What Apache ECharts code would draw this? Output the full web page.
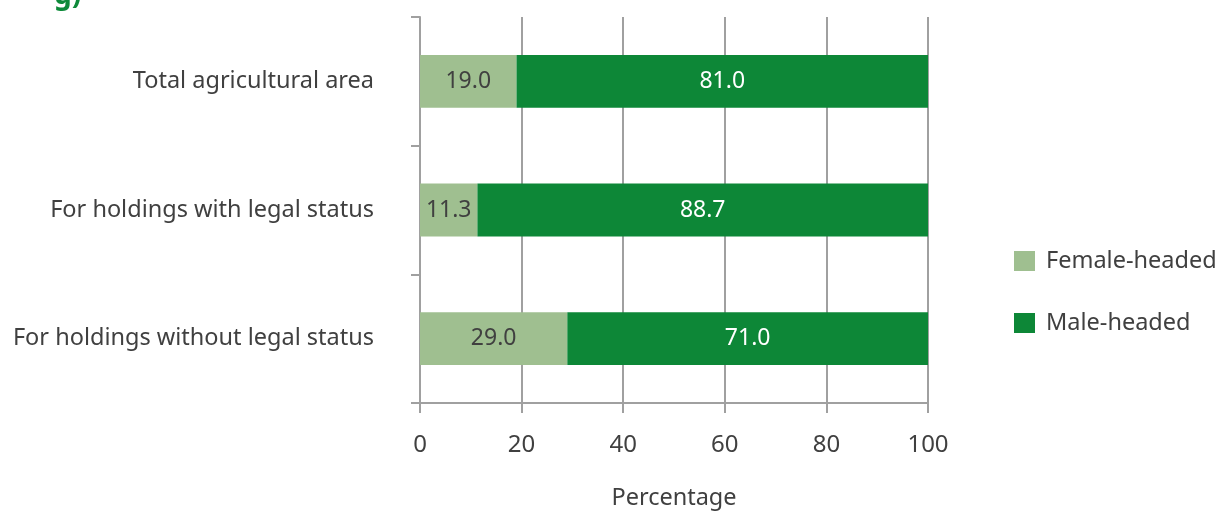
<!DOCTYPE html>
<html><head><meta charset="utf-8">
<script src="https://cdn.jsdelivr.net/npm/echarts@6/dist/echarts.min.js"></script>
<style>html,body{margin:0;padding:0;background:#fff;overflow:hidden}#c{width:1218px;height:515px}</style>
</head><body><div id="c"></div>
<script>
const categories = ["Total agricultural area", "For holdings with legal status", "For holdings without legal status"];
const femaleHeaded = [19.0, 11.3, 29.0];
const maleHeaded = [81.0, 88.7, 71.0];
const xTicks = [0, 20, 40, 60, 80, 100];

const font = "'Noto Sans', 'Open Sans', sans-serif";
const chart = echarts.init(document.getElementById('c'));
chart.setOption({
  animation: false,
  textStyle: { fontFamily: font },
  graphic: [{ type: 'text', left: 54, top: -18, style: { text: 'g)', font: "bold 28px " + font, fill: '#0e8a3a' } }],
  grid: { left: 420, right: 290, top: 17, bottom: 105 },
  legend: {
    orient: 'vertical', left: 1009, top: 243, itemWidth: 21, itemHeight: 20, itemGap: 36,
    icon: 'rect',
    textStyle: { fontSize: 23.5, lineHeight: 24, color: '#404040', fontFamily: font, padding: [2, 0, 0, 6] },
    data: ['Female-headed', 'Male-headed']
  },
  xAxis: {
    type: 'value', min: xTicks[0], max: xTicks[xTicks.length - 1], interval: 20,
    name: 'Percentage', nameLocation: 'middle', nameGap: 83,
    nameTextStyle: { fontSize: 23.5, color: '#404040', fontFamily: font },
    axisLine: { show: true, lineStyle: { color: '#a0a0a0', width: 2 } },
    axisTick: { show: true, length: 10, lineStyle: { color: '#a0a0a0', width: 2 } },
    axisLabel: { fontSize: 24, color: '#404040', margin: 30, fontFamily: font },
    splitLine: { show: true, lineStyle: { color: '#a0a0a0', width: 2 } }
  },
  yAxis: {
    type: 'category', inverse: true, data: categories,
    axisLine: { show: true, lineStyle: { color: '#a0a0a0', width: 2 } },
    axisTick: { show: true, length: 9, lineStyle: { color: '#a0a0a0', width: 2 } },
    axisLabel: { fontSize: 23.5, color: '#404040', margin: 46, fontFamily: font, padding: [5, 0, 0, 0] }
  },
  series: [
    { name: 'Female-headed', type: 'bar', stack: 't', data: femaleHeaded, barWidth: '41%',
      itemStyle: { color: '#9fbf90' },
      label: { show: true, position: 'inside', fontSize: 23, color: '#404040', fontFamily: font, padding: [5, 0, 0, 0], formatter: p => p.value.toFixed(1) } },
    { name: 'Male-headed', type: 'bar', stack: 't', data: maleHeaded, barWidth: '41%',
      itemStyle: { color: '#0d8737' },
      label: { show: true, position: 'inside', fontSize: 23, color: '#ffffff', fontFamily: font, padding: [5, 0, 0, 0], formatter: p => p.value.toFixed(1) } }
  ]
});
</script></body></html>
